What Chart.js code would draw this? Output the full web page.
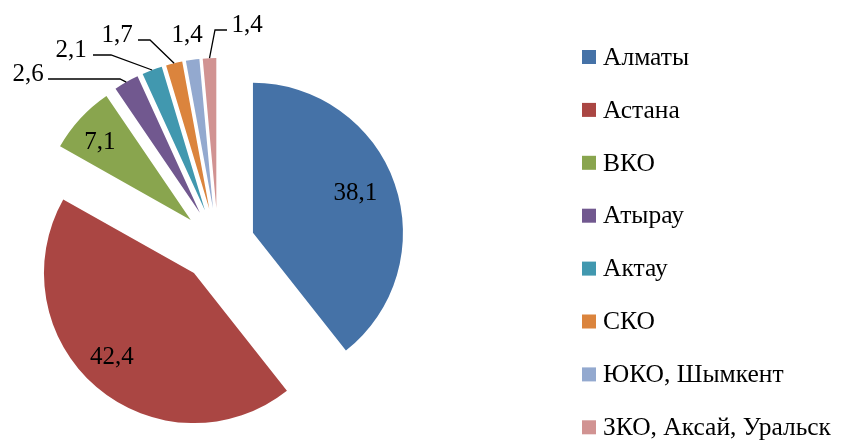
<!DOCTYPE html>
<html>
<head>
<meta charset="utf-8">
<script src="https://cdn.jsdelivr.net/npm/chart.js@4.4.1/dist/chart.umd.min.js"></script>
<style>
  html, body { margin: 0; padding: 0; background: #fff; }
  #wrap { width: 845px; height: 446px; position: relative; }
</style>
</head>
<body>
<div id="wrap"><canvas id="pieChart"></canvas></div>
<script>
// data
var categories = ['Алматы', 'Астана', 'ВКО', 'Атырау', 'Актау', 'СКО', 'ЮКО, Шымкент', 'ЗКО, Аксай, Уральск'];
var shares = [38.1, 42.4, 7.1, 2.6, 2.1, 1.7, 1.4, 1.4];
var colors = ['#4572A7', '#AA4643', '#89A54E', '#71588F', '#4198AF', '#DB843D', '#93A9CF', '#D19392'];

var EXPLODE = 37;
var FONT = '"Liberation Serif", "Times New Roman", serif';

// where each value label goes: inside (fraction of radius, small turn in degrees)
// or outside with a leader line running to the middle of the slice's rim
var labelPlaces = [
    {inside: 0.733, turn: -2.1},
    {inside: 0.782, turn: 3.8},
    {inside: 0.796, turn: -2.1},
    {text: [28, 74], line: [[48, 79], [120, 79]]},
    {text: [71, 50], line: [[93, 55], [111, 55]]},
    {text: [117, 35], line: [[138, 40], [150, 40]]},
    {text: [187, 35]},
    {text: [247, 25], line: [[227, 30], [215, 30]]}
];

function fmt(v) {
    return v.toFixed(1).replace('.', ',');
}

// push every slice out from the centre along its middle angle
var explodePlugin = {
    id: 'explodePlugin',
    beforeDatasetsDraw: function(chart) {
        var area = chart.chartArea;
        var cx = (area.left + area.right) / 2;
        var cy = (area.top + area.bottom) / 2;
        chart.getDatasetMeta(0).data.forEach(function(arc) {
            var mid = (arc.startAngle + arc.endAngle) / 2;
            arc.x = cx + Math.cos(mid) * EXPLODE;
            arc.y = cy + Math.sin(mid) * EXPLODE;
        });
    }
};

var labelPlugin = {
    id: 'labelPlugin',
    afterDatasetsDraw: function(chart) {
        var ctx = chart.ctx;
        ctx.save();
        ctx.font = '25px ' + FONT;
        ctx.fillStyle = '#000';
        ctx.strokeStyle = '#000';
        ctx.lineWidth = 1.3;
        ctx.textAlign = 'center';
        ctx.textBaseline = 'middle';
        chart.getDatasetMeta(0).data.forEach(function(arc, i) {
            var place = labelPlaces[i];
            var mid = (arc.startAngle + arc.endAngle) / 2;
            var r = arc.outerRadius;
            if (place.inside) {
                var a = mid + place.turn * Math.PI / 180;
                ctx.fillText(fmt(shares[i]), arc.x + Math.cos(a) * r * place.inside, arc.y + Math.sin(a) * r * place.inside);
                return;
            }
            ctx.fillText(fmt(shares[i]), place.text[0], place.text[1]);
            if (place.line) {
                ctx.beginPath();
                ctx.moveTo(place.line[0][0], place.line[0][1]);
                for (var k = 1; k < place.line.length; k++) {
                    ctx.lineTo(place.line[k][0], place.line[k][1]);
                }
                ctx.lineTo(arc.x + Math.cos(mid) * r, arc.y + Math.sin(mid) * r);
                ctx.stroke();
            }
        });
        ctx.restore();
    }
};

var legendPlugin = {
    id: 'legendPlugin',
    afterDraw: function(chart) {
        var ctx = chart.ctx;
        ctx.save();
        ctx.font = '25.5px ' + FONT;
        ctx.textAlign = 'left';
        ctx.textBaseline = 'middle';
        for (var i = 0; i < categories.length; i++) {
            var y = 57 + i * 52.9;
            ctx.fillStyle = colors[i];
            ctx.fillRect(582, y - 7, 14, 14);
            ctx.fillStyle = '#000';
            ctx.fillText(categories[i], 603, y + 1);
        }
        ctx.restore();
    }
};

var ctx = document.getElementById('pieChart').getContext('2d');
var pieChart = new Chart(ctx, {
    type: 'pie',
    data: {
        labels: categories,
        datasets: [{
            data: shares,
            backgroundColor: colors,
            borderWidth: 0
        }]
    },
    options: {
        responsive: true,
        maintainAspectRatio: false,
        animation: false,
        radius: 150,
        layout: {
            padding: {left: 0, right: 409, top: 44, bottom: 0}
        },
        plugins: {
            legend: {display: false},
            tooltip: {enabled: false}
        }
    },
    plugins: [explodePlugin, labelPlugin, legendPlugin]
});
</script>
</body>
</html>
